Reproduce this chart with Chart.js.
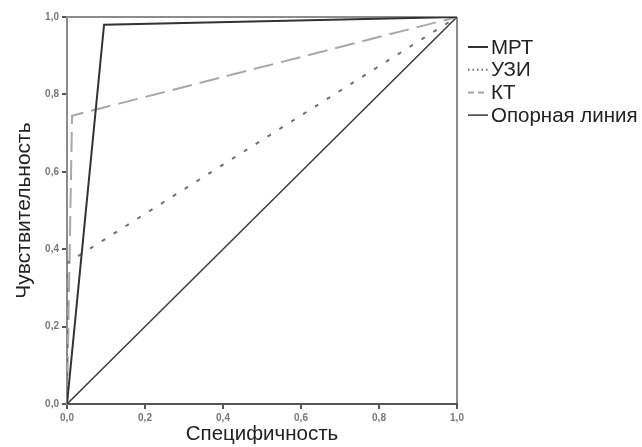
<!DOCTYPE html>
<html>
<head>
<meta charset="utf-8">
<script src="https://cdn.jsdelivr.net/npm/chart.js@4/dist/chart.umd.min.js"></script>
<style>
  html, body { margin: 0; padding: 0; background: #fff; }
  #wrap { width: 642px; height: 447px; }
</style>
</head>
<body>
<div id="wrap"><canvas id="roc"></canvas></div>
<script>
// ROC-кривые, значения
const mriX = [0, 0.095, 1];
const mriY = [0, 0.98, 1];
const usiX = [0, 0, 1];
const usiY = [0, 0.364, 1];
const ktX = [0, 0.013, 1];
const ktY = [0, 0.745, 1];
const refX = [0, 1];
const refY = [0, 1];
const tickValues = [0, 0.2, 0.4, 0.6, 0.8, 1.0];
const seriesNames = ['МРТ', 'УЗИ', 'КТ', 'Опорная линия'];

const pts = (xs, ys) => xs.map((x, i) => ({ x: x, y: ys[i] }));
const fmt = v => v.toFixed(1).replace('.', ',');

// легенда справа, как в оригинале
const sideLegend = {
  id: 'sideLegend',
  afterDraw(chart) {
    const ctx = chart.ctx;
    const x0 = chart.chartArea.right + 11;
    let y = 47;
    ctx.save();
    ctx.font = '20.5px "Liberation Sans", Arial, sans-serif';
    ctx.textBaseline = 'middle';
    chart.data.datasets.forEach(ds => {
      ctx.strokeStyle = ds.borderColor;
      ctx.lineWidth = ds.borderWidth;
      ctx.setLineDash(ds.legendDash || []);
      ctx.beginPath();
      ctx.moveTo(x0, y);
      ctx.lineTo(x0 + 20, y);
      ctx.stroke();
      ctx.setLineDash([]);
      ctx.fillStyle = '#222';
      ctx.fillText(ds.label, x0 + 23, y + 1);
      y += 22.7;
    });
    ctx.restore();
  }
};

const edgeGrid = ctx => (ctx.tick && ctx.tick.value === 1 ? '#8c8c8c' : 'rgba(0,0,0,0)');
const tickFont = { size: 10, weight: 'bold', family: 'Liberation Sans' };

new Chart(document.getElementById('roc'), {
  type: 'scatter',
  data: {
    datasets: [
      { label: seriesNames[0], data: pts(mriX, mriY), borderColor: '#333', borderWidth: 2, legendDash: [] },
      { label: seriesNames[1], data: pts(usiX, usiY), borderColor: '#707070', borderWidth: 2, borderDash: [4, 10], legendDash: [1.5, 3] },
      { label: seriesNames[2], data: pts(ktX, ktY), borderColor: '#a8a8a8', borderWidth: 2, borderDash: [20, 8], legendDash: [6, 4] },
      { label: seriesNames[3], data: pts(refX, refY), borderColor: '#3a3a3a', borderWidth: 1.5, legendDash: [] }
    ].map(ds => Object.assign(ds, { showLine: true, pointRadius: 0, tension: 0, fill: false }))
  },
  options: {
    responsive: true,
    maintainAspectRatio: false,
    animation: false,
    layout: { padding: { top: 17, right: 185, left: 0, bottom: 0 } },
    plugins: { legend: { display: false }, tooltip: { enabled: false } },
    scales: {
      x: {
        type: 'linear', min: 0, max: 1,
        afterFit: s => { s.height = 43; },
        afterBuildTicks: s => { s.ticks = tickValues.map(v => ({ value: v })); },
        ticks: { callback: fmt, color: '#777', font: tickFont, padding: 3, maxRotation: 0 },
        grid: { color: edgeGrid, lineWidth: 2, tickColor: '#555', tickLength: 5, drawOnChartArea: true },
        border: { display: true, color: '#555', width: 2 },
        title: { display: true, text: 'Специфичность', color: '#222', font: { size: 20.5, family: 'Liberation Sans' }, padding: { top: 0, bottom: 0 } }
      },
      y: {
        type: 'linear', min: 0, max: 1,
        afterFit: s => { s.width = 67; },
        afterBuildTicks: s => { s.ticks = tickValues.map(v => ({ value: v })); },
        ticks: { callback: fmt, color: '#777', font: tickFont, padding: 3 },
        grid: { color: edgeGrid, lineWidth: 2, tickColor: '#555', tickLength: 5, drawOnChartArea: true },
        border: { display: true, color: '#8c8c8c', width: 2 },
        title: { display: true, text: 'Чувствительность', color: '#222', font: { size: 21, family: 'Liberation Sans' }, padding: { top: 12, bottom: 0 } }
      }
    }
  },
  plugins: [sideLegend]
});
</script>
</body>
</html>
